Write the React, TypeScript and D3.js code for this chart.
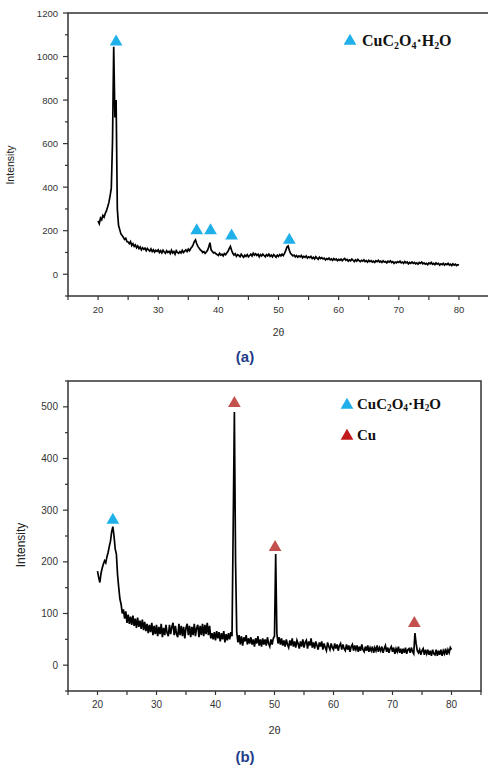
import * as d3 from "d3";

const W = 488;
const H = 771;

// 2θ grid of both scans: 20° .. 80° every 0.2°
const ANGLE_START = 20;
const ANGLE_STEP = 0.2;

// (a) CuC2O4·H2O precursor
const intensityA = [
  245, 232, 258, 250, 270, 262, 280, 292, 310, 330,
  360, 395, 610, 1045, 720, 800, 300, 225, 205, 185,
  178, 170, 160, 165, 150, 148, 140, 150, 132, 140,
  128, 135, 122, 130, 118, 125, 112, 122, 115, 120,
  108, 118, 112, 106, 116, 104, 112, 102, 110, 105,
  112, 100, 108, 98, 110, 102, 96, 108, 100, 105,
  95, 110, 98, 104, 92, 108, 100, 96, 104, 98,
  110, 100, 106, 112, 104, 115, 108, 118, 125, 135,
  150, 158, 140, 128, 120, 112, 108, 100, 104, 96,
  102, 110, 125, 145, 112, 104, 98, 100, 94, 90,
  86, 96, 88, 92, 84, 95, 90, 98, 105, 118,
  128, 110, 96, 88, 94, 82, 90, 86, 80, 92,
  84, 78, 88, 82, 90, 80, 86, 92, 84, 96,
  88, 94, 86, 92, 80, 90, 84, 92, 86, 80,
  90, 84, 92, 82, 88, 80, 90, 84, 78, 88,
  82, 90, 84, 92, 86, 96, 108, 125, 130, 110,
  96, 90, 84, 88, 80, 86, 78, 84, 80, 86,
  76, 82, 78, 84, 74, 80, 76, 82, 72, 78,
  70, 80, 74, 68, 78, 72, 76, 70, 74, 66,
  72, 68, 74, 66, 70, 64, 72, 66, 70, 62,
  68, 64, 70, 62, 68, 72, 64, 68, 60, 66,
  62, 70, 64, 58, 66, 60, 68, 62, 58, 64,
  60, 66, 58, 62, 56, 64, 58, 62, 56, 60,
  54, 62, 58, 64, 56, 60, 54, 62, 56, 58,
  52, 60, 56, 62, 54, 58, 50, 56, 52, 58,
  54, 60, 52, 56, 50, 58, 52, 56, 48, 54,
  50, 56, 50, 54, 48, 52, 46, 54, 50, 56,
  48, 52, 46, 50, 44, 52, 48, 54, 46, 50,
  44, 52, 46, 50, 42, 48, 44, 50, 42, 48,
  44, 50, 42, 46, 40, 48, 42, 46, 40, 44,
  42,
];

// (b) after reduction, Cu peaks
const intensityB = [
  182, 170, 160, 178, 188, 196, 202, 198, 210, 218,
  230, 240, 258, 268, 250, 225, 215, 175, 150, 128,
  118, 100, 108, 90, 104, 82, 98, 80, 94, 78,
  96, 76, 90, 72, 92, 74, 86, 70, 88, 68,
  84, 66, 80, 62, 78, 64, 82, 58, 76, 60,
  78, 56, 74, 60, 80, 54, 72, 58, 78, 62,
  56, 78, 60, 74, 82, 58, 76, 60, 54, 80,
  58, 76, 56, 74, 52, 72, 80, 58, 76, 54,
  74, 58, 80, 56, 72, 78, 54, 76, 58, 80,
  56, 78, 60, 82, 58, 76, 52, 62, 50, 64,
  48, 66, 52, 64, 46, 62, 50, 66, 44, 60,
  48, 62, 50, 64, 56, 270, 490, 200, 64, 44,
  58, 40, 56, 38, 54, 46, 58, 40, 52, 42,
  54, 40, 50, 36, 52, 42, 56, 38, 50, 36,
  52, 40, 50, 38, 54, 42, 36, 50, 40, 52,
  56, 215, 62, 42, 54, 40, 52, 38, 48, 36,
  50, 40, 34, 48, 38, 52, 36, 46, 34, 48,
  42, 32, 46, 36, 50, 34, 44, 48, 32, 46,
  38, 52, 34, 44, 32, 46, 38, 30, 44, 36,
  46, 30, 42, 34, 28, 44, 36, 30, 42, 34,
  30, 42, 32, 40, 28, 38, 42, 30, 40, 32,
  28, 40, 30, 38, 26, 36, 40, 28, 38, 30,
  38, 26, 36, 28, 40, 30, 26, 36, 28, 38,
  26, 34, 28, 36, 24, 34, 28, 38, 26, 34,
  28, 36, 24, 32, 38, 26, 34, 24, 32, 36,
  26, 34, 22, 32, 26, 36, 24, 32, 22, 32,
  24, 34, 22, 30, 32, 24, 34, 26, 22, 62,
  42, 28, 24, 30, 20, 28, 32, 20, 30, 22,
  30, 20, 28, 18, 30, 22, 20, 30, 18, 28,
  20, 30, 18, 28, 22, 32, 20, 30, 24, 34,
  30,
];

// peak markers
const peakAnglesA = [23.0, 36.4, 38.7, 42.2, 51.8];
const peakValuesA = [1068, 200, 200, 176, 157];
const peakPhasesA = ["ox", "ox", "ox", "ox", "ox"];

const peakAnglesB = [22.6, 43.2, 50.1, 73.7];
const peakValuesB = [281, 507, 228, 81];
const peakPhasesB = ["ox", "cu", "cu", "cu"];

const xTickLabels = [20, 30, 40, 50, 60, 70, 80];
const xMinorTicks = [15, 25, 35, 45, 55, 65, 75, 85];
const yTicksA = [0, 200, 400, 600, 800, 1000, 1200];
const yMinorA = [-100, 100, 300, 500, 700, 900, 1100];
const yTicksB = [0, 100, 200, 300, 400, 500];
const yMinorB = [-50, 50, 150, 250, 350, 450, 550];

const CYAN = "#1fb0ea";
const RED = "#c4504d";
const RED_LEGEND = "#c21a1a";
const AXIS = "#333";
const TICK_FONT = "'Liberation Sans', Arial, sans-serif";

function Formula({ x, y, size }: { x: number; y: number; size: number }) {
  const sub = size * 0.62;
  const d = size * 0.16;
  return (
    <text x={x} y={y} fontFamily="'Liberation Serif', 'Times New Roman', serif" fontWeight="bold" fontSize={size} fill="#111">
      <tspan>CuC</tspan>
      <tspan fontSize={sub} dy={d}>2</tspan>
      <tspan dy={-d}>O</tspan>
      <tspan fontSize={sub} dy={d}>4</tspan>
      <tspan dy={-d}>·H</tspan>
      <tspan fontSize={sub} dy={d}>2</tspan>
      <tspan dy={-d}>O</tspan>
    </text>
  );
}

function Panel(props: any) {
  const { values, box, yDomain, yTicks, yMinor, peakAngles, peakValues, peakPhases, yLabel, xLabelY, fontSize } = props;
  const x = d3.scaleLinear().domain([15, 85]).range([box.left, box.right]);
  const y = d3.scaleLinear().domain(yDomain).range([box.bottom, box.top]);
  const line = d3
    .line<number>()
    .x((_, i) => x(ANGLE_START + i * ANGLE_STEP))
    .y((d) => y(d));
  const tri = d3.symbol().type(d3.symbolTriangle).size(70)();

  return (
    <g>
      <rect x={box.left} y={box.top} width={box.right - box.left} height={box.bottom - box.top} fill="none" stroke={AXIS} strokeWidth={1.5} />
      {/* x ticks */}
      {[...xTickLabels, ...xMinorTicks].map((t) => (
        <line key={"xt" + t} x1={x(t)} x2={x(t)} y1={box.bottom} y2={box.bottom + 4} stroke={AXIS} strokeWidth={1.2} />
      ))}
      {xTickLabels.map((t) => (
        <text key={"xl" + t} x={x(t)} y={box.bottom + 17} textAnchor="middle" fontFamily={TICK_FONT} fontSize={fontSize} fill="#333">
          {t}
        </text>
      ))}
      {/* y ticks */}
      {yTicks.map((t: number) => (
        <g key={"yt" + t}>
          <line x1={box.left - 5} x2={box.left} y1={y(t)} y2={y(t)} stroke={AXIS} strokeWidth={1.2} />
          <text x={box.left - 10} y={y(t) + 3.5} textAnchor="end" fontFamily={TICK_FONT} fontSize={fontSize} fill="#333">
            {t}
          </text>
        </g>
      ))}
      {yMinor.map((t: number) => (
        <line key={"ym" + t} x1={box.left - 3} x2={box.left} y1={y(t)} y2={y(t)} stroke={AXIS} strokeWidth={1.2} />
      ))}
      <path d={line(values) ?? ""} fill="none" stroke="#000" strokeWidth={1.7} strokeLinejoin="miter" />
      {peakAngles.map((a: number, i: number) => (
        <path key={"p" + i} d={tri ?? ""} transform={`translate(${x(a)},${y(peakValues[i])})`} fill={peakPhases[i] === "cu" ? RED : CYAN} />
      ))}
      <text x={x(50)} y={xLabelY} textAnchor="middle" fontFamily={TICK_FONT} fontSize={fontSize + 1} fill="#333">
        2θ
      </text>
      <text
        transform={`translate(${yLabel.x},${yLabel.y}) rotate(-90)`}
        textAnchor="middle"
        fontFamily={TICK_FONT}
        fontSize={yLabel.size}
        fill="#222"
      >
        Intensity
      </text>
    </g>
  );
}

export default function App() {
  const tri = d3.symbol().type(d3.symbolTriangle).size(70)() ?? "";
  return (
    <svg width={W} height={H} style={{ position: "absolute", left: 0, top: 0, background: "#fff" }}>
      <Panel
        values={intensityA}
        box={{ left: 68, right: 489, top: 13, bottom: 296 }}
        yDomain={[-100, 1200]}
        yTicks={yTicksA}
        yMinor={yMinorA}
        peakAngles={peakAnglesA}
        peakValues={peakValuesA}
        peakPhases={peakPhasesA}
        yLabel={{ x: 14, y: 165, size: 10.5 }}
        xLabelY={336}
        fontSize={9.5}
      />
      <path d={tri} transform="translate(350,41)" fill={CYAN} />
      <Formula x={362} y={46} size={16} />
      <text x={245} y={362} textAnchor="middle" fontFamily={TICK_FONT} fontWeight="bold" fontSize={15} fill="#1f3c8a">
        (a)
      </text>

      <Panel
        values={intensityB}
        box={{ left: 68, right: 481, top: 381, bottom: 691 }}
        yDomain={[-50, 550]}
        yTicks={yTicksB}
        yMinor={yMinorB}
        peakAngles={peakAnglesB}
        peakValues={peakValuesB}
        peakPhases={peakPhasesB}
        yLabel={{ x: 25, y: 545, size: 12 }}
        xLabelY={734}
        fontSize={10}
      />
      <path d={tri} transform="translate(347,405)" fill={CYAN} />
      <Formula x={357} y={409} size={15} />
      <path d={tri} transform="translate(347,436)" fill={RED_LEGEND} />
      <text x={357} y={440} fontFamily="'Liberation Serif', 'Times New Roman', serif" fontWeight="bold" fontSize={15} fill="#111">
        Cu
      </text>
      <text x={245} y={762} textAnchor="middle" fontFamily={TICK_FONT} fontWeight="bold" fontSize={15} fill="#1f3c8a">
        (b)
      </text>
    </svg>
  );
}
